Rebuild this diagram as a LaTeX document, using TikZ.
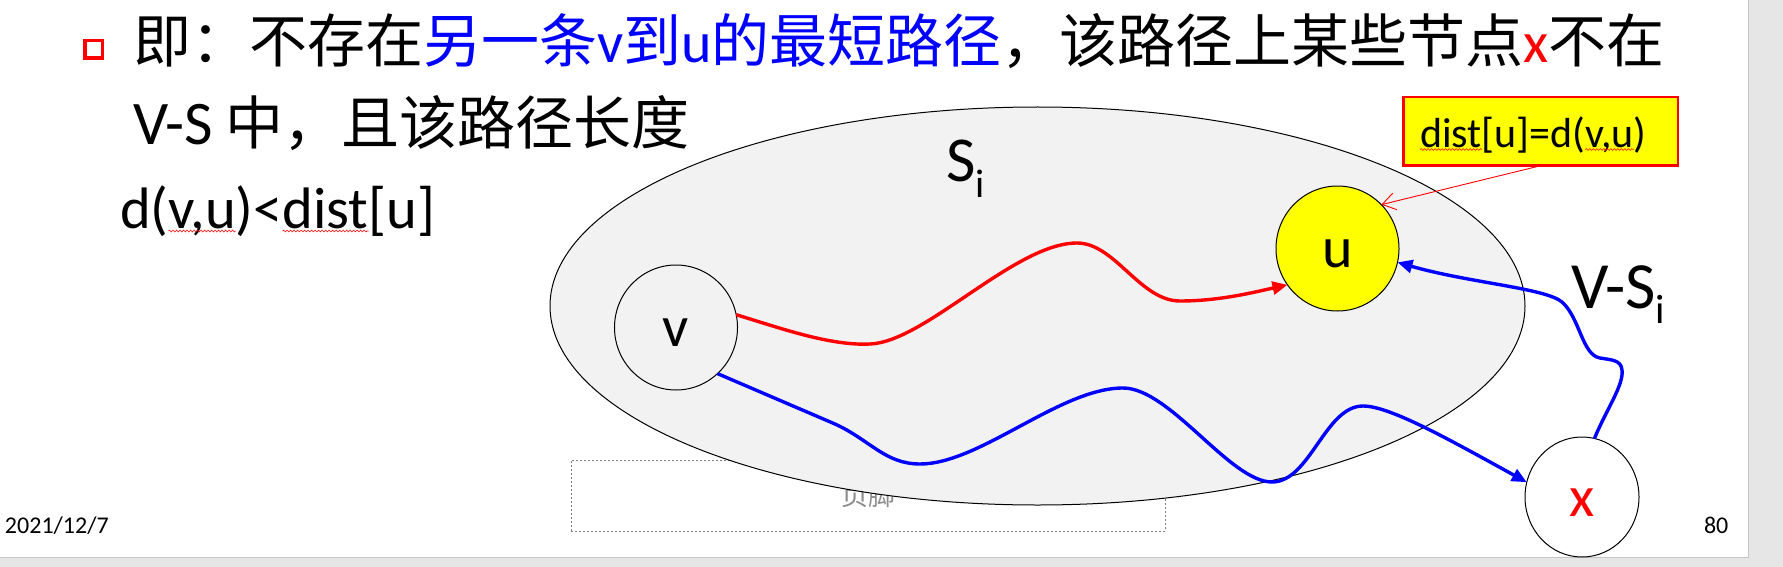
\documentclass[tikz,border=0pt]{standalone}
\usepackage{fontspec}
\setmainfont{Carlito}
\newfontfamily\cjk{Noto Sans CJK SC}
\usetikzlibrary{arrows.meta,shapes.geometric,decorations.pathmorphing}
\definecolor{slidegray}{HTML}{E6E6E6}
\definecolor{edgegray}{HTML}{C6C6C6}
\definecolor{setfill}{HTML}{F2F2F2}
\definecolor{footgray}{HTML}{8C8C8C}
\definecolor{footline}{HTML}{808080}
\definecolor{pureblue}{HTML}{0000FF}
\definecolor{purered}{HTML}{FF0000}
\definecolor{pureyellow}{HTML}{FFFF00}
\begin{document}
\begin{tikzpicture}[x=1pt,y=-1pt,
  every node/.style={inner sep=0pt, outer sep=0pt},
  bodytxt/.style={anchor=base west, font=\fontsize{58}{70}\selectfont},
  linethree/.style={anchor=base west, font=\fontsize{58.5}{70}\selectfont},
  boxtxt/.style={anchor=base west, font=\fontsize{42}{50}\selectfont},
  vertex/.style={ellipse, draw=black, line width=1pt, font=\fontsize{58}{70}\selectfont, text height=38pt, text depth=0pt},
  redpath/.style={draw=purered, line width=3.4pt, -{Triangle[length=15pt,width=13pt]}},
  bluepath/.style={draw=pureblue, line width=3.4pt, -{Triangle[length=15pt,width=13pt]}},
  callout/.style={draw=purered, line width=0.9pt, -{Straight Barb[length=13pt,width=17pt]}},
  wavy/.style={draw=purered, line width=0.6pt, decorate, decoration={snake, amplitude=0.9pt, segment length=3.5pt}},
  smalltxt/.style={anchor=base west, font=\fontsize{24}{28}\selectfont}
]
\useasboundingbox (0,0) rectangle (1783,567);
% slide background
\fill[slidegray] (0,0) rectangle (1783,567);
\draw[edgegray, fill=white, line width=1pt] (-2,-2) rectangle (1748,557);

% footer placeholder (under the set ellipse)
\node[draw=footline, dashed, dash pattern=on 2pt off 2pt, line width=0.8pt,
      minimum width=594pt, minimum height=71pt, text=footgray,
      font=\cjk\fontsize{27}{30}\selectfont] (footer) at (868,495.5) {页脚};

% the set S_i
\node[ellipse, draw=black, line width=1pt, fill=setfill,
      minimum width=975pt, minimum height=398pt] (setS) at (1037.5,306) {};
\node[anchor=base west, font=\fontsize{64}{70}\selectfont] (si) at (946,182)
  {S\raisebox{-16pt}{\fontsize{40}{40}\selectfont i}};
\node[anchor=base west, font=\fontsize{66}{70}\selectfont] (vsi) at (1571,308)
  {V-S\raisebox{-15pt}{\fontsize{41}{41}\selectfont i}};

% bullet and text
\node[draw=purered, line width=3.5pt, minimum size=17.5pt] (bullet) at (93.5,49.5) {};
\node[bodytxt] (line1) at (133,63)
  {{\cjk 即：不存在}\textcolor{pureblue}{{\cjk 另一条}v{\cjk 到}u{\cjk 的最短路径}}{\cjk ，该路径上某些节点}\textcolor{purered}{x}{\cjk 不在}};
\node[bodytxt] (line2) at (133,145) {{\fontsize{62}{70}\selectfont V-S} {\cjk 中，且该路径长度}};
\node[linethree] (l3a) at (120,228) {d(};
\node[linethree] (l3b) at (l3a.base east) {v,u};
\node[linethree] (l3c) at (l3b.base east) {)<};
\node[linethree] (l3d) at (l3c.base east) {dist};
\node[linethree] (l3e) at (l3d.base east) {[u]};
\draw[wavy] ([yshift=-3pt]l3b.base west) -- ([yshift=-3pt]l3b.base east);
\draw[wavy] ([yshift=-3pt]l3d.base west) -- ([yshift=-3pt]l3d.base east);

% vertices
\node[vertex, minimum width=123pt, minimum height=125pt] (v) at (676,327.5) {v};
\node[vertex, fill=pureyellow, minimum width=123pt, minimum height=125pt] (u) at (1337.5,248.5) {u};
\node[vertex, minimum width=114pt, minimum height=120pt, text=purered] (x) at (1582,497) {x};

% paths
\draw[redpath] (v.12) .. controls (780,328) and (830,346) .. (870,344)
  .. controls (925,342) and (1015,243) .. (1077,243)
  .. controls (1115,243) and (1140,301) .. (1180,301)
  .. controls (1220,301) and (1255,292) .. (u.216);
\draw[bluepath] (v.312) -- (835,424) .. controls (870,440) and (885,464) .. (920,464)
  .. controls (980,464) and (1060,388) .. (1123,388)
  .. controls (1170,388) and (1230,482) .. (1272,482)
  .. controls (1310,482) and (1325,406) .. (1363,406)
  .. controls (1390,406) and (1450,440) .. (x.165);
\draw[bluepath] (x.78) .. controls (1606,410) and (1624,385) .. (1622,370)
  .. controls (1621,360) and (1612,360) .. (1600,358)
  .. controls (1582,355) and (1580,318) .. (1562,302)
  .. controls (1545,288) and (1470,283) .. (u.347);

% callout box
\node[draw=purered, fill=pureyellow, line width=2.5pt,
      minimum width=274.5pt, minimum height=68.5pt] (distbox) at (1540.5,131.5) {};
\node[boxtxt] (b1) at (1420,147) {dist};
\node[boxtxt] (b2) at (b1.base east) {[u]=d(};
\node[boxtxt] (b3) at (b2.base east) {v,u};
\node[boxtxt] (b4) at (b3.base east) {)};
\draw[wavy] ([yshift=-2.5pt]b1.base west) -- ([yshift=-2.5pt]b1.base east);
\draw[wavy] ([yshift=-2.5pt]b3.base west) -- ([yshift=-2.5pt]b3.base east);
\draw[callout] (distbox.south) -- (u.45);

% footer texts
\node[smalltxt] (date) at (5,533) {2021/12/7};
\node[smalltxt] (page) at (1704,533) {80};
\end{tikzpicture}
\end{document}
